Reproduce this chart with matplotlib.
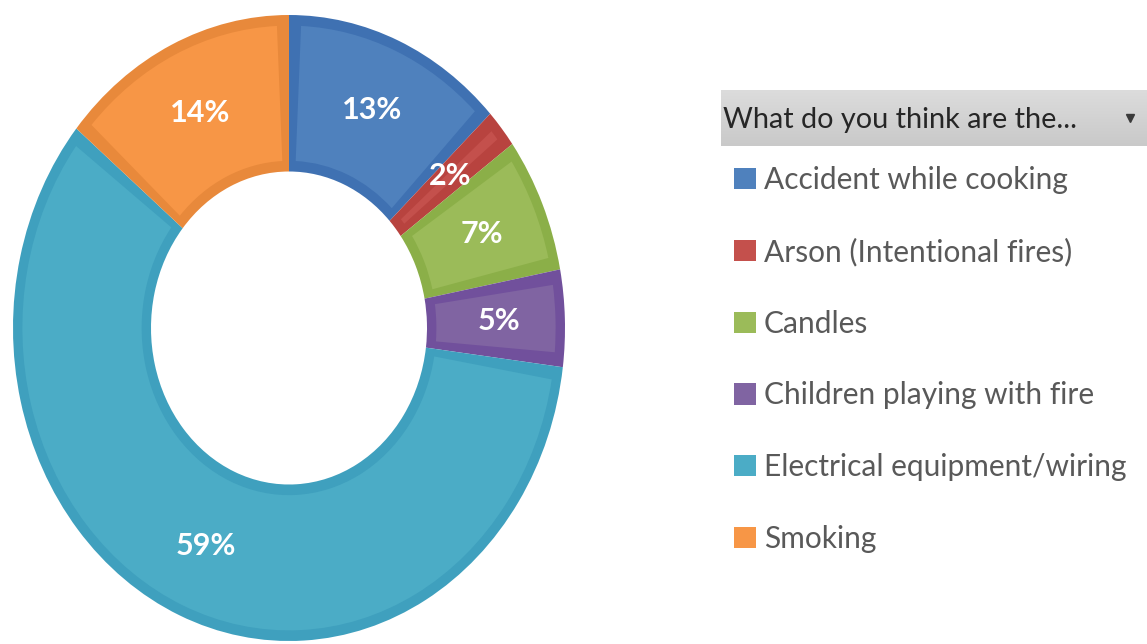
import matplotlib
matplotlib.use("Agg")
import matplotlib.pyplot as plt
import numpy as np
from matplotlib.patches import Wedge

# data (clockwise from 12 o'clock)
causes = [
    "Accident while cooking",
    "Arson (Intentional fires)",
    "Candles",
    "Children playing with fire",
    "Electrical equipment/wiring",
    "Smoking",
]
shares = [13, 2, 7, 5, 59, 14]
header_text = "What do you think are the..."

# Excel 2007 style palette: light fill + darker rim
fill_colors = ["#4F81BD", "#C4504C", "#9BBB59", "#8064A2", "#4BACC6", "#F79646"]
rim_colors = ["#3F71B2", "#B8433F", "#8BAF48", "#71509C", "#3FA0BE", "#E8893B"]

W, H = 1147, 644
fig = plt.figure(figsize=(W / 100, H / 100), dpi=100)
fig.patch.set_facecolor("white")

# pie axes, placed in pixel terms (chart is slightly stretched vertically)
lim = 1.03
cx, cy = 289, 644 - 328      # centre in px (from bottom)
rx, ry = 276, 313            # outer radius in px
ax = fig.add_axes([(cx - rx * lim) / W, (cy - ry * lim) / H,
                   2 * rx * lim / W, 2 * ry * lim / H])

ring = 0.5
rim = 0.034

wedges, _, autotexts = ax.pie(
    shares, colors=rim_colors, startangle=90, counterclock=False,
    radius=1.0, autopct=lambda p: f"{p:.0f}%", pctdistance=0.76,
    wedgeprops=dict(width=ring, linewidth=0),
    textprops=dict(color="white", fontsize=22, fontweight="bold", family="Lato"),
)

# lighter inner panel of each slice
inner = []
for w, c in zip(wedges, fill_colors):
    da = np.degrees(rim / 0.75)
    t1, t2 = w.theta1 + da, w.theta2 - da
    if t2 <= t1:
        mid = 0.5 * (w.theta1 + w.theta2)
        t1, t2 = mid - 0.3, mid + 0.3
    p = Wedge((0, 0), 1.0 - rim, t1, t2, width=ring - 2 * rim,
              facecolor=c, linewidth=0, zorder=1.5)
    ax.add_patch(p)
    inner.append(p)

for t in autotexts:
    t.set_zorder(3)

ax.set_aspect("auto")
ax.set_xlim(-lim, lim)
ax.set_ylim(-lim, lim)
ax.axis("off")

# header "field button" with a gray gradient
hx0, hx1, hy0, hy1 = 721, 1147, 644 - 146, 644 - 90
hax = fig.add_axes([hx0 / W, hy0 / H, (hx1 - hx0) / W, (hy1 - hy0) / H])
grad = np.linspace(0, 1, 64).reshape(-1, 1)
hax.imshow(grad, cmap=matplotlib.colors.LinearSegmentedColormap.from_list(
    "hdr", ["#DCDCDC", "#C9C9C9"]), aspect="auto", extent=(0, 1, 1, 0))
hax.set_xlim(0, 1)
hax.set_ylim(1, 0)
hax.axis("off")
hax.text(0.004, 0.54, header_text, fontsize=20.8, family="Lato",
         color="#262626", va="center", ha="left")
hax.plot([(1130 - hx0) / (hx1 - hx0)], [0.5], marker="v", ms=6,
         color="#3A3A3A", linestyle="none")

# legend
leg = fig.legend(
    inner, causes, loc="upper left",
    bbox_to_anchor=(734 / W, (644 - 166) / H),
    frameon=False, labelcolor="#595959",
    prop=dict(family="Lato", size=21.5),
    handlelength=0.72, handleheight=0.72, handletextpad=0.28,
    labelspacing=1.46, borderpad=0, borderaxespad=0,
)

fig.savefig("out.png", dpi=100)
